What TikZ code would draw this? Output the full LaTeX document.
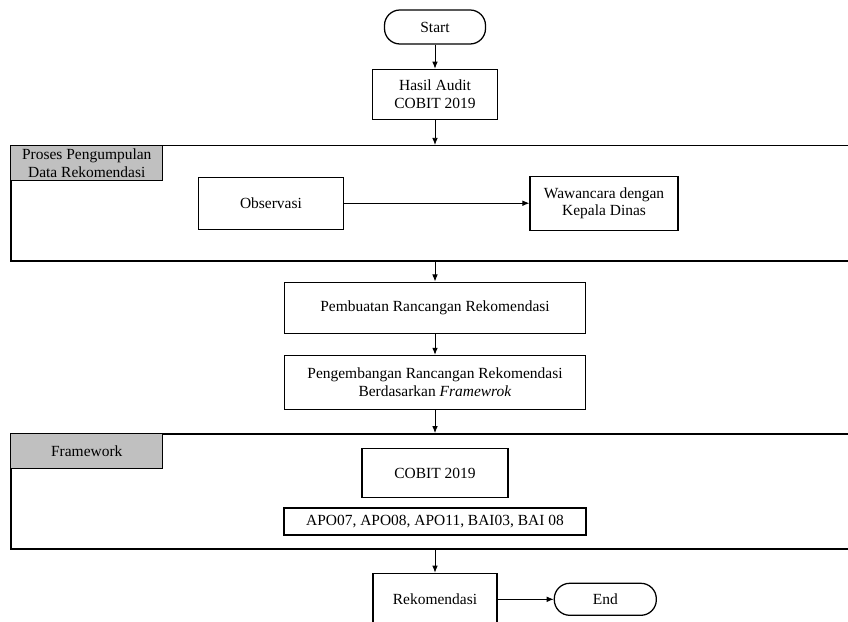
\documentclass[tikz,border=0pt]{standalone}
\usepackage{fontspec}
\setmainfont{Liberation Serif}
\usepackage{tikz}
\usetikzlibrary{positioning,calc,arrows.meta}
\definecolor{tabgray}{RGB}{192,192,192}
\newcommand{\boxfont}{\fontsize{11}{12.5}\selectfont}

\begin{document}
\begin{tikzpicture}[
  x=0.025cm, y=-0.025cm,
  node distance = 0.6cm and 1.4cm,
  box/.style    = {draw, line width=0.9pt, align=center,
                   inner sep=2pt, font=\boxfont},
  term/.style   = {box, rounded corners=11pt,
                   minimum width=2.55cm, minimum height=0.8cm},
  frame/.style  = {draw, line width=1.1pt,
                   minimum width=21.2cm, minimum height=2.875cm},
  tab/.style    = {box, fill=tabgray, inner sep=1pt,
                   minimum width=3.8cm, minimum height=0.875cm},
  arr/.style    = {->, >={Latex[length=5pt,width=4pt]}, line width=0.6pt},
]
\useasboundingbox (0,0) rectangle (848,622);
\node[term, minimum width=2.525cm, minimum height=0.85cm] (start) at (435,27) {Start};
\node[box, minimum width=3.125cm, minimum height=1.25cm, below=0.6cm of start] (audit) {Hasil Audit\\COBIT 2019};
% proses pengumpulan data
\node[frame, below=0.625cm of audit] (kumpul) {};
\node[tab, anchor=north west] (kumpultab) at (kumpul.north west) {Proses Pengumpulan\\Data Rekomendasi};
\node[box, minimum width=3.625cm, minimum height=1.3cm, xshift=-4.1cm] (obs) at (kumpul.center) {Observasi};
\node[box, minimum width=3.7cm, minimum height=1.35cm, xshift=4.225cm] (wawan) at (kumpul.center) {Wawancara dengan\\Kepala Dinas};
\node[box, minimum width=7.525cm, minimum height=1.275cm, below=0.5cm of kumpul] (buat) {Pembuatan Rancangan Rekomendasi};
\node[box, minimum width=7.525cm, minimum height=1.35cm, below=0.525cm of buat] (kembang) {Pengembangan Rancangan Rekomendasi\\Berdasarkan \textit{Framewrok}};
% framework
\node[frame, below=0.575cm of kembang] (fw) {};
\node[tab, anchor=north west] (fwtab) at (fw.north west) {Framework};
\node[box, minimum width=3.65cm, minimum height=1.225cm, anchor=north, yshift=-0.375cm] (cobit) at (fw.north) {COBIT 2019};
\node[box, minimum width=7.55cm, minimum height=0.675cm, below=0.225cm of cobit] (apo) {APO07, APO08, APO11, BAI03, BAI 08};
\node[box, minimum width=3.1cm, minimum height=1.3cm, below=0.575cm of fw] (rekom) {Rekomendasi};
\node[term, right=1.4cm of rekom] (end) {End};
\draw[arr] (start) -- (audit);
\draw[arr] (audit) -- (kumpul.north);
\draw[arr] (obs) -- (wawan);
\draw[arr] (kumpul.south) -- (buat.north -| kumpul.south);
\draw[arr] (buat.south -| kumpul.south) -- (kembang.north -| kumpul.south);
\draw[arr] (kembang.south -| kumpul.south) -- (fw.north);
\draw[arr] (fw.south) -- (rekom.north -| fw.south);
\draw[arr] (rekom) -- (end);
\end{tikzpicture}
\end{document}
